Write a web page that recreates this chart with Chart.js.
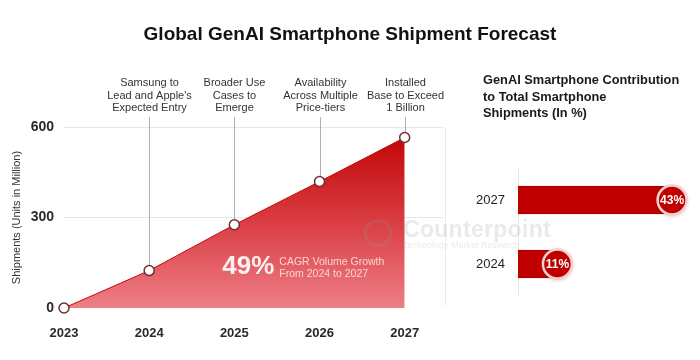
<!DOCTYPE html>
<html>
<head>
<meta charset="utf-8">
<script src="https://cdn.jsdelivr.net/npm/chart.js@4.4.1/dist/chart.umd.min.js"></script>
<style>
  html, body { margin: 0; padding: 0; background: #fff; }
  #wrap { position: relative; width: 700px; height: 360px; overflow: hidden; font-family: "Liberation Sans", Arial, sans-serif; }
  #left { position: absolute; left: 0; top: 0; }
  #right { position: absolute; left: 460px; top: 0; }
  #title { position: absolute; left: 0; width: 700px; top: 23px; text-align: center; font-weight: bold; font-size: 19px; color: #111; }
  #rtitle { position: absolute; left: 483px; top: 72px; font-weight: bold; font-size: 12.8px; line-height: 16.5px; color: #1a1a1a; }
  #wm { position: absolute; left: 362px; top: 218px; pointer-events: none; }
  #wm .ring { position: absolute; left: 2px; top: 1px; width: 22px; height: 22px; border: 3px solid rgba(150,150,150,0.2); border-radius: 50%; }
  #wm .name { position: absolute; left: 41px; top: -2px; font-size: 23px; font-weight: bold; color: rgba(150,150,150,0.2); white-space: nowrap; letter-spacing: 0.3px; }
  #wm .tag { position: absolute; left: 41px; top: 22px; font-size: 9px; color: rgba(150,150,150,0.2); white-space: nowrap; }
</style>
</head>
<body>
<div id="wrap">
  <canvas id="left" width="460" height="360"></canvas>
  <canvas id="right" width="240" height="360"></canvas>
  <div id="title">Global GenAI Smartphone Shipment Forecast</div>
  <div id="rtitle">GenAI Smartphone Contribution<br>to Total Smartphone<br>Shipments (In %)</div>
  <div id="wm"><div class="ring"></div><div class="name">Counterpoint</div><div class="tag">Technology Market Research</div></div>
</div>
<script>
// ---- data ----
const years = [2023, 2024, 2025, 2026, 2027];
const shipments = [0, 124, 276, 419, 565];
const yTicks = [0, 300, 600];
const milestones = [
  null,
  ["Samsung to", "Lead and Apple's", "Expected Entry"],
  ["Broader Use", "Cases to", "Emerge"],
  ["Availability", "Across Multiple", "Price-tiers"],
  ["Installed", "Base to Exceed", "1 Billion"]
];
const cagrValue = 49;
const cagrText = ["CAGR Volume Growth", "From 2024 to 2027"];
const shareYears = ["2027", "2024"];
const shareValues = [43, 11];

const FONT = '"Liberation Sans", Arial, sans-serif';
Chart.defaults.font.family = FONT;
Chart.defaults.animation = false;

// ---- left chart plugin ----
const annotPlugin = {
  id: 'annot',
  beforeDatasetsDraw(chart) {
    const { ctx, chartArea } = chart;
    const xs = chart.scales.x, ys = chart.scales.y;
    ctx.save();
    ctx.strokeStyle = '#ececec';
    ctx.lineWidth = 1;
    ctx.beginPath();
    ctx.moveTo(chartArea.right + 2.5, chartArea.top);
    ctx.lineTo(chartArea.right + 2.5, chartArea.bottom - 2);
    ctx.stroke();
    milestones.forEach((m, i) => {
      if (!m) return;
      const px = Math.round(xs.getPixelForValue(years[i])) + 0.5;
      const py = ys.getPixelForValue(shipments[i]);
      ctx.strokeStyle = '#b0b0b0';
      ctx.lineWidth = 1;
      ctx.beginPath();
      ctx.moveTo(px, 117);
      ctx.lineTo(px, py - 5);
      ctx.stroke();
      ctx.fillStyle = '#333';
      ctx.font = '11px ' + FONT;
      ctx.textAlign = 'center';
      ctx.textBaseline = 'middle';
      m.forEach((t, k) => ctx.fillText(t, px, 83 + k * 12.5));
    });
    ctx.restore();
  },
  afterDatasetsDraw(chart) {
    const { ctx } = chart;
    const xs = chart.scales.x, ys = chart.scales.y;
    const ax = xs.getPixelForValue(2025);
    const ay = ys.getPixelForValue(0);
    ctx.save();
    ctx.fillStyle = '#fdf0f0';
    ctx.font = 'bold 26px ' + FONT;
    ctx.textAlign = 'left';
    ctx.textBaseline = 'middle';
    ctx.fillText(cagrValue + '%', ax - 12, ay - 41);
    ctx.fillStyle = '#fbd3d3';
    ctx.font = '10.5px ' + FONT;
    ctx.fillText(cagrText[0], ax + 45, ay - 46);
    ctx.fillText(cagrText[1], ax + 45, ay - 34);
    ctx.restore();
  }
};

new Chart(document.getElementById('left'), {
  type: 'line',
  data: {
    datasets: [{
      data: years.map((y, i) => ({ x: y, y: shipments[i] })),
      fill: 'origin',
      clip: false,
      borderColor: '#c40a0a',
      borderWidth: 1,
      tension: 0,
      pointRadius: 5,
      pointBackgroundColor: '#ffffff',
      pointBorderColor: '#6e3030',
      pointBorderWidth: 1.5,
      backgroundColor(c) {
        const ca = c.chart.chartArea;
        if (!ca) return '#d43030';
        const g = c.chart.ctx.createLinearGradient(0, ca.top, 0, ca.bottom);
        g.addColorStop(0, '#bf0000');
        g.addColorStop(0.5, '#d83a40');
        g.addColorStop(1, '#ee7f86');
        return g;
      }
    }]
  },
  options: {
    responsive: false,
    layout: { padding: { top: 127, right: 17, bottom: 0, left: 0 } },
    plugins: { legend: { display: false }, tooltip: { enabled: false } },
    scales: {
      x: {
        type: 'linear', min: 2023, max: 2027.45,
        afterBuildTicks(s) { s.ticks = years.map(v => ({ value: v })); },
        afterFit(s) { s.height = 52; },
        ticks: { font: { size: 13, weight: 'bold' }, color: '#2a2a2a', padding: 10, callback: v => String(v) },
        grid: { display: false },
        border: { display: false }
      },
      y: {
        min: 0, max: 600,
        afterBuildTicks(s) { s.ticks = yTicks.map(v => ({ value: v })); },
        afterFit(s) { s.width = 64; },
        ticks: { font: { size: 14, weight: 'bold' }, color: '#2a2a2a', padding: 10 },
        grid: { color: c => (c.tick && c.tick.value === 0) ? 'rgba(0,0,0,0)' : '#e6e6e6', drawTicks: false },
        border: { display: false },
        title: { display: true, text: 'Shipments (Units in Million)', font: { size: 11 }, color: '#333', padding: { top: 10, bottom: 0 } }
      }
    }
  },
  plugins: [annotPlugin]
});

// ---- right chart ----
const bubblePlugin = {
  id: 'bubbles',
  afterDatasetsDraw(chart) {
    const { ctx } = chart;
    const meta = chart.getDatasetMeta(0);
    meta.data.forEach((el, i) => {
      ctx.save();
      ctx.shadowColor = 'rgba(0,0,0,0.3)';
      ctx.shadowBlur = 4;
      ctx.shadowOffsetY = 1;
      ctx.beginPath();
      ctx.arc(el.x, el.y, 14.5, 0, Math.PI * 2);
      ctx.fillStyle = '#c00000';
      ctx.fill();
      ctx.shadowColor = 'transparent';
      ctx.lineWidth = 2.5;
      ctx.strokeStyle = '#f5cfcf';
      ctx.stroke();
      ctx.fillStyle = '#ffffff';
      ctx.font = 'bold 12px ' + FONT;
      ctx.textAlign = 'center';
      ctx.textBaseline = 'middle';
      ctx.fillText(shareValues[i] + '%', el.x, el.y + 0.5);
      ctx.restore();
    });
  }
};

new Chart(document.getElementById('right'), {
  type: 'bar',
  data: {
    labels: shareYears,
    datasets: [{
      data: shareValues,
      backgroundColor: '#c00000',
      borderColor: '#990000',
      borderWidth: { top: 1, bottom: 1, left: 0, right: 0 },
      borderSkipped: false,
      barThickness: 28
    }]
  },
  options: {
    indexAxis: 'y',
    responsive: false,
    layout: { padding: { top: 168, right: 10, bottom: 64, left: 0 } },
    plugins: { legend: { display: false }, tooltip: { enabled: false } },
    scales: {
      x: { min: 0, max: 48, display: false },
      y: {
        afterFit(s) { s.width = 58; },
        ticks: { font: { size: 13 }, color: '#222', padding: 13 },
        grid: { display: false, drawTicks: false },
        border: { display: true, color: '#e8e8e8' }
      }
    }
  },
  plugins: [bubblePlugin]
});
</script>
</body>
</html>
